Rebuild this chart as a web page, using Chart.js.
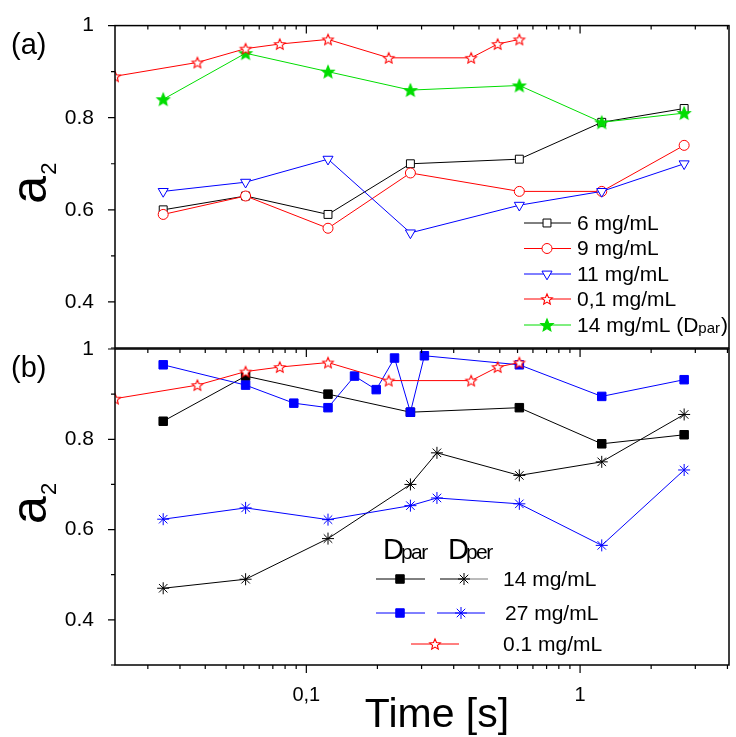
<!DOCTYPE html>
<html>
<head>
<meta charset="utf-8">
<script src="https://cdn.jsdelivr.net/npm/chart.js@4.4.1/dist/chart.umd.min.js"></script>
<style>
  body { margin: 0; background: #fff; }
  #wrap { position: relative; width: 736px; height: 737px; }
  #wrap canvas { position: absolute; left: 0; top: 0; }
</style>
</head>
<body>
<div id="wrap">
  <canvas id="chartA" width="736" height="737"></canvas>
  <canvas id="chartB" width="736" height="737"></canvas>
</div>
<script>
// measurement times (s)
const tStar = [0.02, 0.04, 0.06, 0.08, 0.12, 0.2, 0.4, 0.5, 0.6];
const tMain = [0.03, 0.06, 0.12, 0.24, 0.6, 1.2, 2.4];
const tBlueSq = [0.03, 0.06, 0.09, 0.12, 0.15, 0.18, 0.21, 0.24, 0.27, 0.6, 1.2, 2.4];
const tPer = [0.03, 0.06, 0.12, 0.24, 0.3, 0.6, 1.2, 2.4];

// (a) a2 per concentration
const a2_6 = [0.60, 0.63, 0.59, 0.70, 0.71, 0.79, 0.82];
const a2_9 = [0.59, 0.63, 0.56, 0.68, 0.64, 0.64, 0.74];
const a2_11 = [0.64, 0.66, 0.71, 0.55, 0.61, 0.64, 0.70];
const a2_01 = [0.89, 0.92, 0.95, 0.96, 0.97, 0.93, 0.93, 0.96, 0.97];
const a2_14par = [0.84, 0.94, 0.90, 0.86, 0.87, 0.79, 0.81];

// (b) parallel / perpendicular
const a2_27par = [0.965, 0.92, 0.88, 0.87, 0.94, 0.91, 0.98, 0.86, 0.985, 0.965, 0.895, 0.932];
const a2_14per = [0.47, 0.49, 0.58, 0.70, 0.77, 0.72, 0.75, 0.855];
const a2_27per = [0.623, 0.648, 0.622, 0.653, 0.670, 0.657, 0.565, 0.732];

const yTicks = [0.4, 0.6, 0.8, 1];
const yMinor = [0.3, 0.5, 0.7, 0.9];
const xTicks = [0.1, 1];
const xTickLabels = ['0,1', '1'];

const FONT = '"Liberation Sans", Arial, sans-serif';
const RED = '#ff0000', BLUE = '#0000ff', GREEN = '#00dd00', BLACK = '#000000';

// minor ticks: 10 evenly spaced per decade
const xMinor = [];
[0.01, 0.1, 1].forEach(d => {
  for (let k = 1; k <= 10; k++) {
    const v = d * (1 + 9 * k / 11);
    if (v > 0.02 && v < 3.5) xMinor.push(v);
  }
});

function starMark(r, fill, stroke) {
  const s = Math.ceil(r * 2 + 4);
  const c = document.createElement('canvas');
  c.width = c.height = s;
  const g = c.getContext('2d');
  g.beginPath();
  for (let i = 0; i < 10; i++) {
    const rr = i % 2 ? r * 0.45 : r;
    const ang = -Math.PI / 2 + i * Math.PI / 5;
    g.lineTo(s / 2 + rr * Math.cos(ang), s / 2 + 0.6 + rr * Math.sin(ang));
  }
  g.closePath();
  g.fillStyle = fill;
  g.fill();
  g.lineWidth = 1.1;
  g.strokeStyle = stroke;
  g.stroke();
  return c;
}

const redStar = starMark(5.6, '#ffffff', RED);
const greenStar = starMark(6.6, GREEN, GREEN);

function pts(xs, ys) {
  return xs.map((x, i) => ({ x: x, y: ys[i] }));
}

function series(label, xs, ys, color, style, radius, fill, extra) {
  return Object.assign({
    label: label,
    data: pts(xs, ys),
    borderColor: color,
    borderWidth: 1,
    pointStyle: style,
    pointRadius: radius,
    pointBorderColor: color,
    pointBackgroundColor: fill,
    pointBorderWidth: 1,
    tension: 0
  }, extra || {});
}

// frame, ticks, axis titles and hand-laid legends
const decor = {
  id: 'decor',
  afterDraw(chart, args, o) {
    const { ctx, chartArea: a } = chart;
    const x = chart.scales.x, y = chart.scales.y;
    ctx.save();
    ctx.strokeStyle = BLACK;
    ctx.lineWidth = 1.5;
    ctx.strokeRect(a.left, a.top, a.right - a.left, a.bottom - a.top);

    ctx.lineWidth = 1.2;
    ctx.beginPath();
    yTicks.forEach(v => { const p = y.getPixelForValue(v); ctx.moveTo(a.left - 7, p); ctx.lineTo(a.left, p); });
    yMinor.forEach(v => { const p = y.getPixelForValue(v); ctx.moveTo(a.left - 4, p); ctx.lineTo(a.left, p); });
    xTicks.forEach(v => {
      const p = x.getPixelForValue(v);
      ctx.moveTo(p, a.top); ctx.lineTo(p, a.top + 8);
      if (o.bottomTicks) { ctx.moveTo(p, a.bottom); ctx.lineTo(p, a.bottom + 8); }
    });
    xMinor.forEach(v => {
      const p = x.getPixelForValue(v);
      ctx.moveTo(p, a.top); ctx.lineTo(p, a.top + 4);
      if (o.bottomTicks) { ctx.moveTo(p, a.bottom); ctx.lineTo(p, a.bottom + 4); }
    });
    ctx.stroke();

    ctx.fillStyle = BLACK;
    ctx.textBaseline = 'alphabetic';
    ctx.textAlign = 'left';
    ctx.font = '29px ' + FONT;
    ctx.fillText(o.tag, 11, a.top + 28);

    // rotated a2 title
    const cy = (a.top + a.bottom) / 2;
    ctx.save();
    ctx.translate(46, cy + 17);
    ctx.rotate(-Math.PI / 2);
    ctx.font = '50px ' + FONT;
    ctx.fillText('a', 0, 0);
    ctx.font = '22px ' + FONT;
    ctx.fillText('2', 29, 10);
    ctx.restore();

    if (o.timeTitle) {
      ctx.font = '41px ' + FONT;
      ctx.textAlign = 'center';
      ctx.fillText('Time [s]', 437, 727);
    }

    if (o.legend) o.legend(ctx, chart);
    ctx.restore();
  }
};

function marker(ctx, ds, x, y) {
  ctx.fillStyle = ds.pointBackgroundColor;
  ctx.strokeStyle = ds.pointBorderColor;
  ctx.lineWidth = ds.pointBorderWidth;
  Chart.helpers.drawPoint(ctx, {
    pointStyle: ds.pointStyle, rotation: ds.pointRotation || 0,
    radius: ds.pointRadius, borderWidth: ds.pointBorderWidth
  }, x, y);
}

function legendLine(ctx, color, x0, x1, y) {
  ctx.strokeStyle = color;
  ctx.lineWidth = 1;
  ctx.beginPath();
  ctx.moveTo(x0, y);
  ctx.lineTo(x1, y);
  ctx.stroke();
}

function legendA(ctx, chart) {
  const rows = [223, 248.5, 274, 299, 325];
  const names = ['6 mg/mL', '9 mg/mL', '11 mg/mL', '0,1 mg/mL', '14 mg/mL (D'];
  const order = [4, 3, 2, 0, 1];
  ctx.textBaseline = 'middle';
  ctx.textAlign = 'left';
  rows.forEach((ry, i) => {
    const ds = chart.data.datasets[order[i]];
    legendLine(ctx, ds.borderColor, 524, 571, ry);
    marker(ctx, ds, 547, ry);
    ctx.fillStyle = BLACK;
    ctx.font = '21px ' + FONT;
    ctx.fillText(names[i], 577, ry + 1);
    if (i === 4) {
      let px = 577 + ctx.measureText(names[i]).width;
      ctx.font = '15px ' + FONT;
      ctx.fillText('par', px, ry + 4);
      px += ctx.measureText('par').width + 1;
      ctx.font = '21px ' + FONT;
      ctx.fillText(')', px, ry + 1);
    }
  });
}

function legendB(ctx, chart) {
  const ds = chart.data.datasets;
  ctx.fillStyle = BLACK;
  ctx.textBaseline = 'alphabetic';
  ctx.textAlign = 'left';
  [['par', 383], ['per', 448]].forEach(h => {
    ctx.font = '29px ' + FONT;
    ctx.letterSpacing = '0px';
    ctx.fillText('D', h[1], 559);
    const w = ctx.measureText('D').width;
    ctx.font = '21px ' + FONT;
    ctx.letterSpacing = '-1.5px';
    ctx.fillText(h[0], h[1] + w - 3, 559);
  });
  ctx.letterSpacing = '0px';

  // 14 mg/mL row
  legendLine(ctx, BLACK, 376, 425, 579);
  marker(ctx, ds[4], 400, 579);
  legendLine(ctx, BLACK, 440, 464, 579);
  legendLine(ctx, '#777777', 464, 488, 579);
  marker(ctx, ds[2], 464, 579);
  // 27 mg/mL row
  legendLine(ctx, BLUE, 376, 425, 613);
  marker(ctx, ds[3], 400, 613);
  legendLine(ctx, BLUE, 437, 485, 613);
  marker(ctx, ds[1], 461, 613);
  // 0.1 mg/mL row
  legendLine(ctx, RED, 411, 459, 644);
  marker(ctx, ds[0], 435, 644);

  ctx.fillStyle = BLACK;
  ctx.font = '21px ' + FONT;
  ctx.textBaseline = 'middle';
  ctx.fillText('14 mg/mL', 503, 580);
  ctx.fillText('27 mg/mL', 505, 614);
  ctx.fillText('0.1 mg/mL', 503, 645);
}

function panelOptions(padTop, padBottom, xHeight, showX, decorOpts) {
  return {
    responsive: false,
    animation: false,
    events: [],
    layout: { padding: { top: padTop, bottom: padBottom, left: 0, right: 6 } },
    plugins: { legend: { display: false }, tooltip: { enabled: false }, decor: decorOpts },
    scales: {
      x: {
        type: 'logarithmic',
        min: 0.02,
        max: 3.5,
        grid: { display: false },
        border: { display: false },
        afterBuildTicks: s => { s.ticks = xTicks.map(v => ({ value: v })); },
        afterFit: s => { s.height = xHeight; },
        ticks: {
          display: showX,
          color: BLACK,
          padding: 10,
          font: { family: FONT, size: 20 },
          callback: v => xTickLabels[xTicks.indexOf(v)]
        }
      },
      y: {
        type: 'linear',
        min: 0.3,
        max: 1,
        grid: { display: false },
        border: { display: false },
        afterBuildTicks: s => { s.ticks = yTicks.map(v => ({ value: v })); },
        afterFit: s => { s.width = 115; },
        ticks: {
          color: BLACK,
          padding: 13,
          font: { family: FONT, size: 21 },
          callback: v => (v === 1 ? '1' : v.toFixed(1))
        }
      }
    }
  };
}

new Chart(document.getElementById('chartA'), {
  type: 'line',
  data: {
    datasets: [
      series('0,1 mg/mL', tStar, a2_01, RED, redStar, 5, '#fff'),
      series('14 mg/mL (Dpar)', tMain, a2_14par, GREEN, greenStar, 6, GREEN),
      series('11 mg/mL', tMain, a2_11, BLUE, 'triangle', 5.8, '#fff', { pointRotation: 180 }),
      series('9 mg/mL', tMain, a2_9, RED, 'circle', 5, '#fff'),
      series('6 mg/mL', tMain, a2_6, BLACK, 'rect', 5.6, '#fff')
    ]
  },
  options: panelOptions(16, 389, 0, false, { tag: '(a)', legend: legendA }),
  plugins: [decor]
});

new Chart(document.getElementById('chartB'), {
  type: 'line',
  data: {
    datasets: [
      series('0.1 mg/mL', tStar, a2_01, RED, redStar, 5, '#fff'),
      series('27 mg/mL Dper', tPer, a2_27per, BLUE, 'star', 6, BLUE),
      series('14 mg/mL Dper', tPer, a2_14per, BLACK, 'star', 6, BLACK),
      series('27 mg/mL Dpar', tBlueSq, a2_27par, BLUE, 'rect', 6, BLUE),
      series('14 mg/mL Dpar', tMain, a2_14par, BLACK, 'rect', 6, BLACK)
    ]
  },
  options: panelOptions(349, 0, 72, true, { tag: '(b)', legend: legendB, bottomTicks: true, timeTitle: true }),
  plugins: [decor]
});
</script>
</body>
</html>
